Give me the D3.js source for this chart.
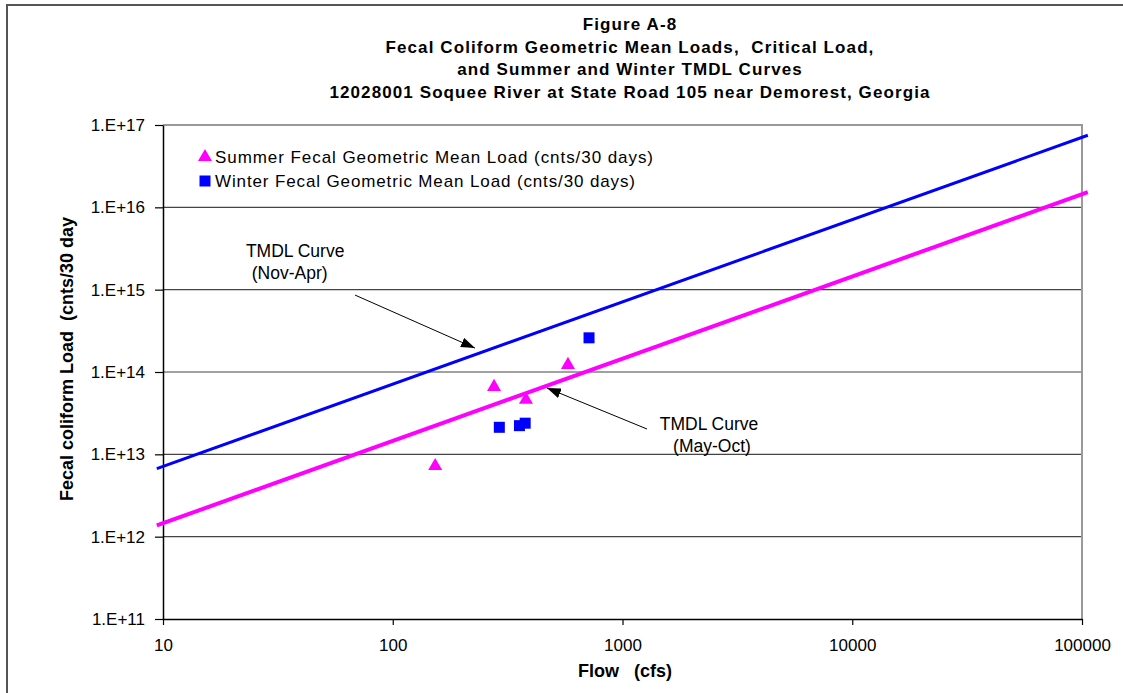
<!DOCTYPE html>
<html>
<head>
<meta charset="utf-8">
<script src="https://cdn.jsdelivr.net/npm/d3@7"></script>
<style>
  body { margin: 0; background: #fff; }
  text { font-family: "Liberation Sans", Arial, sans-serif; fill: #000; }
</style>
</head>
<body>
<div id="chart"></div>
<script>
// data
var summerFlow = [153, 276, 380, 579];
var summerLoad = [7.2e12, 6.6e13, 4.6e13, 1.22e14];

var winterFlow = [291, 356, 377, 715];
var winterLoad = [2.13e13, 2.23e13, 2.39e13, 2.6e14];

var curveFlow = [9.4, 106000];
var winterCurve = [6.7e12, 7.5e16];
var summerCurve = [1.37e12, 1.53e16];

var xTicks = [10, 100, 1000, 10000, 100000];
var yTicks = [1e11, 1e12, 1e13, 1e14, 1e15, 1e16, 1e17];

var titleLines = [
  "Figure A-8",
  "Fecal Coliform Geometric Mean Loads,  Critical Load,",
  "and Summer and Winter TMDL Curves",
  "12028001 Soquee River at State Road 105 near Demorest, Georgia"
];
var legendLabels = [
  "Summer Fecal Geometric Mean Load (cnts/30 days)",
  "Winter Fecal Geometric Mean Load (cnts/30 days)"
];

var svgWidth = 1123;
var svgHeight = 693;

var margin = { top: 125, right: 41, bottom: 74, left: 163 };
var width = svgWidth - margin.left - margin.right;
var height = svgHeight - margin.top - margin.bottom;

var svg = d3.select("#chart")
  .append("svg")
  .attr("width", svgWidth)
  .attr("height", svgHeight);

// outer chart border
svg.append("rect")
  .attr("x", 7).attr("y", 5)
  .attr("width", 1140).attr("height", 720)
  .attr("fill", "none")
  .attr("stroke", "#555")
  .attr("stroke-width", 2);

// title
svg.append("g").selectAll("text")
  .data(titleLines)
  .enter()
  .append("text")
  .attr("x", 630)
  .attr("y", (d, i) => 30 + i * 22.7)
  .attr("text-anchor", "middle")
  .style("font-size", "17px")
  .style("font-weight", "bold")
  .style("letter-spacing", "1.1px")
  .style("white-space", "pre")
  .text(d => d);

var chartGroup = svg.append("g")
  .attr("transform", `translate(${margin.left}, ${margin.top})`);

var x = d3.scaleLog().domain([10, 100000]).range([0, width]);
var y = d3.scaleLog().domain([1e11, 1e17]).range([height, 0]);

// gridlines
chartGroup.append("g").selectAll("line")
  .data(yTicks.slice(1, -1))
  .enter()
  .append("line")
  .attr("x1", 0).attr("x2", width)
  .attr("y1", d => y(d)).attr("y2", d => y(d))
  .attr("stroke", "#444")
  .attr("stroke-width", 1.2);

// plot border top / right
chartGroup.append("path")
  .attr("d", `M0,0H${width}V${height}`)
  .attr("fill", "none")
  .attr("stroke", "#999")
  .attr("stroke-width", 2);

// axes
var bottomAxis = d3.axisBottom(x).tickValues(xTicks).tickFormat(d3.format("d")).tickSizeOuter(0).tickSizeInner(6).tickPadding(14);
var leftAxis = d3.axisLeft(y).tickValues(yTicks).tickFormat(d => "1.E+" + Math.round(Math.log10(d))).tickSizeOuter(0).tickSizeInner(8).tickPadding(10);

var gx = chartGroup.append("g")
  .attr("transform", `translate(0, ${height})`)
  .call(bottomAxis);
var gy = chartGroup.append("g").call(leftAxis);

[gx, gy].forEach(function (g) {
  g.select(".domain").attr("stroke", "#000").attr("stroke-width", 1.5);
  g.selectAll(".tick line").attr("stroke", "#000").attr("stroke-width", 1.2);
  g.selectAll(".tick text")
    .style("font-size", "17px")
    .style("font-family", "'Liberation Sans', Arial, sans-serif")
    .attr("fill", "#000");
});

// TMDL curves
var line = d3.line()
  .x(d => x(d[0]))
  .y(d => y(d[1]));

chartGroup.append("path")
  .datum(d3.zip(curveFlow, winterCurve))
  .attr("d", line)
  .attr("fill", "none")
  .attr("stroke", "#0000ff")
  .attr("stroke-width", 3);

chartGroup.append("path")
  .datum(d3.zip(curveFlow, summerCurve))
  .attr("d", line)
  .attr("fill", "none")
  .attr("stroke", "#ff00ff")
  .attr("stroke-width", 4);

// points
var tri = d3.symbol().type(d3.symbolTriangle).size(85);

chartGroup.append("g").selectAll("path")
  .data(d3.zip(summerFlow, summerLoad))
  .enter()
  .append("path")
  .attr("d", tri)
  .attr("transform", d => `translate(${x(d[0])}, ${y(d[1])})`)
  .attr("fill", "#ff00ff");

chartGroup.append("g").selectAll("rect")
  .data(d3.zip(winterFlow, winterLoad))
  .enter()
  .append("rect")
  .attr("x", d => x(d[0]) - 5.5)
  .attr("y", d => y(d[1]) - 5.5)
  .attr("width", 11)
  .attr("height", 11)
  .attr("fill", "#0000ff");

// legend
var legend = svg.append("g").attr("transform", "translate(205, 157)");
legend.append("path")
  .attr("d", tri)
  .attr("fill", "#ff00ff");
legend.append("rect")
  .attr("x", -5.5).attr("y", 18.5)
  .attr("width", 11).attr("height", 11)
  .attr("fill", "#0000ff");
legend.selectAll("text")
  .data(legendLabels)
  .enter()
  .append("text")
  .attr("x", 10)
  .attr("y", (d, i) => 6 + i * 24)
  .attr("textLength", (d, i) => i === 0 ? 438 : 420)
  .attr("lengthAdjust", "spacing")
  .style("font-size", "17px")
  .text(d => d);

// annotations: arrows
var arrows = [
  { from: [68.5, 8.6e14], to: [228, 1.95e14] },
  { from: [1279, 2.03e13], to: [469, 6.4e13] }
];

svg.append("defs").append("marker")
  .attr("id", "head")
  .attr("viewBox", "0 0 14 10")
  .attr("refX", 14).attr("refY", 5)
  .attr("markerWidth", 14).attr("markerHeight", 10)
  .attr("markerUnits", "userSpaceOnUse")
  .attr("orient", "auto")
  .append("path")
  .attr("d", "M0,0L14,5L0,10Z")
  .attr("fill", "#000");

chartGroup.append("g").selectAll("line")
  .data(arrows)
  .enter()
  .append("line")
  .attr("x1", d => x(d.from[0])).attr("y1", d => y(d.from[1]))
  .attr("x2", d => x(d.to[0])).attr("y2", d => y(d.to[1]))
  .attr("stroke", "#000")
  .attr("stroke-width", 1)
  .attr("marker-end", "url(#head)");

var notes = [
  { text: "TMDL Curve", at: [37.6, 2.51e15] },
  { text: "(Nov-Apr)", at: [35.6, 1.35e15] },
  { text: "TMDL Curve", at: [2380, 1.97e13] },
  { text: "(May-Oct)", at: [2452, 1.07e13] }
];

chartGroup.append("g").selectAll("text")
  .data(notes)
  .enter()
  .append("text")
  .attr("x", d => x(d.at[0]))
  .attr("y", d => y(d.at[1]))
  .attr("text-anchor", "middle")
  .style("font-size", "17.5px")
  .text(d => d.text);

// axis titles
chartGroup.append("text")
  .attr("transform", "rotate(-90)")
  .attr("x", -(359 - margin.top))
  .attr("y", 67 - margin.left + 6)
  .attr("text-anchor", "middle")
  .style("font-size", "18px")
  .style("font-weight", "bold")
  .style("white-space", "pre")
  .text("Fecal coliform Load  (cnts/30 day");

chartGroup.append("text")
  .attr("x", 625 - margin.left)
  .attr("y", 677 - margin.top)
  .attr("text-anchor", "middle")
  .style("font-size", "18px")
  .style("font-weight", "bold")
  .style("white-space", "pre")
  .text("Flow   (cfs)");
</script>
</body>
</html>
